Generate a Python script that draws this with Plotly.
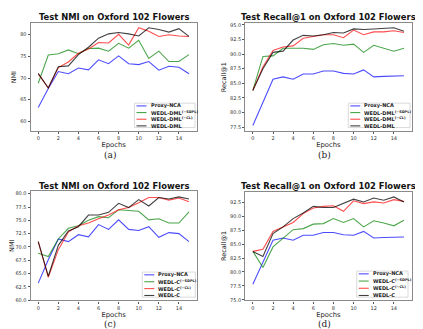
import plotly.graph_objects as go

W, H = 423, 329
epochs = list(range(16))

# Panel (a): Test NMI, DML variants
nmi_proxy = [63.2, 67.6, 71.5, 71.0, 72.3, 71.9, 74.2, 73.3, 75.1, 73.3, 73.1, 73.8, 71.8, 72.7, 72.5, 71.0]
nmi_dml_sdpl = [68.8, 75.3, 75.6, 76.5, 75.6, 76.8, 76.9, 76.2, 78.0, 76.9, 78.7, 74.5, 76.2, 73.8, 73.8, 75.4]
nmi_dml_cl = [71.0, 67.7, 72.4, 73.7, 75.7, 76.7, 78.2, 78.1, 80.1, 77.6, 81.6, 80.8, 79.6, 80.0, 79.7, 79.6]
nmi_dml = [71.0, 67.7, 72.6, 72.8, 75.4, 77.1, 79.2, 80.2, 80.5, 80.2, 79.7, 81.6, 81.2, 80.6, 81.4, 79.6]

# Panel (b): Test Recall@1, DML variants
rec_proxy = [77.8, 81.8, 85.7, 86.1, 85.7, 86.6, 86.6, 87.1, 87.1, 86.7, 86.6, 87.3, 86.1, 86.2, 86.3, 86.3]
rec_dml_sdpl = [83.8, 89.6, 89.7, 91.0, 91.0, 91.0, 90.8, 91.6, 91.8, 91.5, 91.7, 90.3, 91.5, 91.0, 90.5, 91.0]
rec_dml_cl = [83.8, 87.8, 90.6, 91.2, 91.4, 92.7, 93.0, 93.3, 93.3, 92.8, 94.1, 93.3, 93.8, 93.8, 94.0, 93.7]
rec_dml = [83.8, 87.5, 90.3, 90.5, 92.4, 93.2, 93.1, 93.3, 93.7, 93.6, 94.3, 94.2, 94.3, 94.4, 94.5, 93.9]

# Panel (c): Test NMI, C variants
nmi_c_sdpl = [68.8, 68.2, 71.5, 73.5, 74.0, 75.0, 75.7, 75.5, 77.0, 76.9, 76.7, 75.1, 75.3, 74.5, 74.5, 76.6]
nmi_c_cl = [71.0, 64.3, 69.5, 72.8, 74.0, 74.5, 75.3, 76.0, 77.0, 77.4, 78.3, 79.3, 79.3, 78.8, 79.2, 78.5]
nmi_c = [71.0, 64.5, 70.3, 73.0, 73.8, 76.0, 76.0, 76.5, 78.2, 77.4, 78.9, 77.7, 79.3, 79.0, 79.4, 79.0]

# Panel (d): Test Recall@1, C variants
rec_c_sdpl = [83.7, 80.8, 84.5, 86.0, 87.6, 87.8, 88.6, 88.7, 89.6, 88.9, 89.6, 88.1, 89.2, 88.8, 88.3, 89.3]
rec_c_cl = [83.7, 84.1, 87.3, 88.1, 88.9, 90.5, 91.5, 91.8, 91.9, 90.9, 92.8, 92.3, 92.6, 92.4, 93.0, 92.7]
rec_c = [83.7, 82.8, 86.9, 88.1, 89.6, 90.6, 91.8, 91.6, 91.6, 92.3, 93.1, 92.6, 93.3, 92.9, 93.5, 92.6]

names_dml = ["Proxy-NCA", "WEDL-DML<sup>(−SDPL)</sup>", "WEDL-DML<sup>(−CL)</sup>", "WEDL-DML"]
names_c = ["Proxy-NCA", "WEDL-C<sup>(−SDPL)</sup>", "WEDL-C<sup>(−CL)</sup>", "WEDL-C"]
titles = ["Test NMI on Oxford 102 Flowers", "Test Recall@1 on Oxford 102 Flowers",
          "Test NMI on Oxford 102 Flowers", "Test Recall@1 on Oxford 102 Flowers"]
ylabels = ["NMI", "Recall@1", "NMI", "Recall@1"]
captions = ["(a)", "(b)", "(c)", "(d)"]

colors = ["rgba(0,0,255,0.7)", "rgba(0,128,0,0.7)", "rgba(255,0,0,0.7)", "rgba(0,0,0,0.75)"]

panels = [
    dict(series=[nmi_proxy, nmi_dml_sdpl, nmi_dml_cl, nmi_dml], names=names_dml,
         box=(22.7, 188.5, 13.3, 122.7), yr=[57.72, 82.67], ytick=[60, 65, 70, 75, 80], fmt="d",
         leg=(126.5, 187, 94.3, 119), ty=7.4, cy=146.5),
    dict(series=[rec_proxy, rec_dml_sdpl, rec_dml_cl, rec_dml], names=names_dml,
         box=(237.3, 403.5, 13.3, 122.7), yr=[76.82, 95.29], ytick=[77.5, 80, 82.5, 85, 87.5, 90, 92.5, 95], fmt=".1f",
         leg=(340.3, 402, 94.3, 119), ty=7.4, cy=146.5),
    dict(series=[nmi_proxy, nmi_c_sdpl, nmi_c_cl, nmi_c], names=names_c,
         box=(22.7, 188.5, 183.3, 294), yr=[59.95, 80.5], ytick=[60, 62.5, 65, 67.5, 70, 72.5, 75, 77.5, 80], fmt=".1f",
         leg=(134.3, 187.3, 265.3, 290.7), ty=178.3, cy=317.5),
    dict(series=[rec_proxy, rec_c_sdpl, rec_c_cl, rec_c], names=names_c,
         box=(237.3, 403.5, 183.8, 294), yr=[74.88, 94.46], ytick=[75, 77.5, 80, 82.5, 85, 87.5, 90, 92.5], fmt=".1f",
         leg=(348.7, 400, 264.3, 290.7), ty=178.3, cy=317.5),
]


def px(x):
    return x / W


def py(y):
    return 1 - y / H


fig = go.Figure()
shapes = []
annotations = []
for i, p in enumerate(panels):
    k = "" if i == 0 else str(i + 1)
    xa, ya = "x" + k, "y" + k
    l, r, t, b = p["box"]
    for s, nm, c in zip(p["series"], p["names"], colors):
        fig.add_trace(go.Scatter(x=epochs, y=s, mode="lines", name=nm,
                                 line=dict(color=c, width=1.1), showlegend=False,
                                 xaxis=xa, yaxis=ya))
    axis_common = dict(showgrid=False, zeroline=False, showline=True, mirror=True,
                       linecolor="#8a8a8a", linewidth=1.3, ticks="outside", ticklen=2,
                       tickwidth=0.8, tickcolor="#555",
                       tickfont=dict(family="DejaVu Sans", size=5, color="#333"))
    fig.update_layout(**{
        "xaxis" + k: dict(domain=[px(l), px(r)], range=[-0.75, 15.75], tickvals=list(range(0, 15, 2)),
                          anchor=ya,
                          title=dict(text="Epochs", font=dict(family="DejaVu Sans", size=6.8, color="#222"),
                                     standoff=1),
                          **axis_common),
        "yaxis" + k: dict(domain=[py(b), py(t)], range=p["yr"], tickvals=p["ytick"], tickformat=p["fmt"],
                          anchor=xa,
                          title=dict(text=ylabels[i],
                                     font=dict(family="DejaVu Sans", size=6.5, color="#222"), standoff=2),
                          **axis_common),
    })
    # title
    annotations.append(dict(text="<b>" + titles[i] + "</b>", xref="paper", yref="paper",
                            x=px((l + r) / 2), y=py(p["ty"]), xanchor="center", yanchor="middle",
                            showarrow=False, borderpad=0,
                            font=dict(family="DejaVu Sans", size=8.4, color="#111")))
    # caption
    annotations.append(dict(text=captions[i], xref="paper", yref="paper",
                            x=px((l + r) / 2 - 4), y=py(p["cy"]), xanchor="center", yanchor="middle",
                            showarrow=False, borderpad=0,
                            font=dict(family="DejaVu Serif", size=9, color="#222")))
    # legend box
    ll, lr, lt, lb = p["leg"]
    shapes.append(dict(type="rect", xref="paper", yref="paper", x0=px(ll), x1=px(lr), y0=py(lb), y1=py(lt),
                       line=dict(color="#d0d0d0", width=0.8), fillcolor="rgba(255,255,255,0.85)", layer="above"))
    step = (lb - lt - 4.5) / 3
    for j, (nm, c) in enumerate(zip(p["names"], colors)):
        yy = lt + 2.8 + j * step
        shapes.append(dict(type="line", xref="paper", yref="paper", x0=px(ll + 2), x1=px(ll + 12),
                           y0=py(yy), y1=py(yy), line=dict(color=c, width=1.1), layer="above"))
        annotations.append(dict(text="<b>" + nm + "</b>", xref="paper", yref="paper",
                                x=px(ll + 15), y=py(yy), xanchor="left", yanchor="middle",
                                showarrow=False, borderpad=0,
                                font=dict(family="DejaVu Sans", size=5, color="#222")))

fig.update_layout(width=W, height=H, margin=dict(l=0, r=0, t=0, b=0),
                  paper_bgcolor="white", plot_bgcolor="white",
                  shapes=shapes, annotations=annotations)
fig.write_html("out.html")
